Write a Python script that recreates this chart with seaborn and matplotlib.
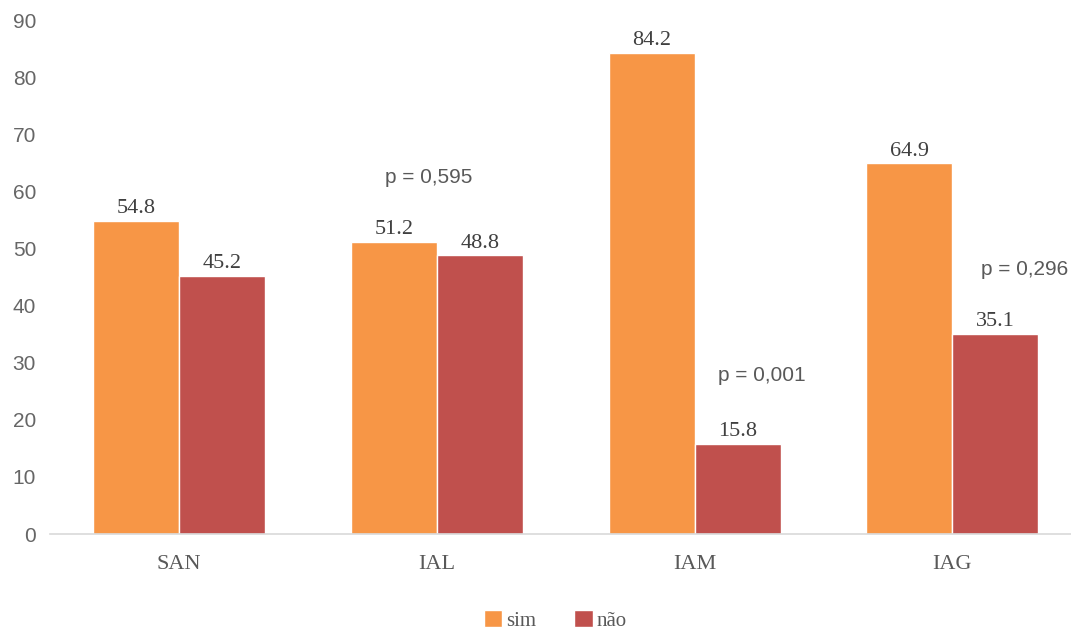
import pandas as pd
import matplotlib
matplotlib.use('Agg')
import matplotlib.pyplot as plt
import seaborn as sns

categories = ['SAN', 'IAL', 'IAM', 'IAG']
sim = [54.8, 51.2, 84.2, 64.9]
nao = [45.2, 48.8, 15.8, 35.1]
series_names = ['sim', 'não']
p_labels = ['p = 0,595', 'p = 0,001', 'p = 0,296']
p_pos = [(0.97, 62.5), (2.26, 27.7), (3.28, 46.4)]
y_ticks = list(range(0, 91, 10))

df = pd.DataFrame({
    'cat': categories * 2,
    'grupo': [series_names[0]] * 4 + [series_names[1]] * 4,
    'valor': sim + nao,
})

sns.set_style('white')
plt.rcParams['font.family'] = ['Liberation Serif', 'DejaVu Serif']
sans = ['Liberation Sans', 'DejaVu Sans']

fig = plt.figure(figsize=(10.71, 6.32), dpi=100)
ax = fig.add_axes([50 / 1071, 98 / 632, 1 - 50 / 1071, (534 - 20) / 632])

palette = {'sim': '#F79646', 'não': '#C0504D'}
sns.barplot(data=df, x='cat', y='valor', hue='grupo', palette=palette,
            width=0.667, gap=0, saturation=1, ax=ax, legend=True)

for cont in ax.containers:
    ax.bar_label(cont, fmt='%.1f', padding=2, fontsize=16, color='#404040')

for txt, (x, y) in zip(p_labels, p_pos):
    ax.text(x, y, txt, ha='center', va='center', fontsize=15,
            family=sans, color='#595959')

ax.set_ylim(0, 90)
ax.set_xlim(-0.5, 3.46)
ax.set_yticks(y_ticks)
ax.set_yticklabels([str(t) for t in y_ticks], family=sans)
ax.tick_params(axis='y', labelsize=15, labelcolor='#666666', length=0, pad=10)
ax.tick_params(axis='x', labelsize=16, labelcolor='#595959', length=0, pad=15)
ax.set_xlabel('')
ax.set_ylabel('')
for s in ['top', 'right', 'left']:
    ax.spines[s].set_visible(False)
ax.spines['bottom'].set_color('#D9D9D9')
ax.spines['bottom'].set_linewidth(1.2)

handles, labels = ax.get_legend_handles_labels()
ax.legend(handles, labels, loc='lower center', bbox_to_anchor=(0.495, -0.225),
          ncol=2, frameon=False, fontsize=15, handlelength=0.9, handleheight=0.9,
          handletextpad=0.2, columnspacing=1.8, labelcolor='#595959')

fig.savefig('out.png', dpi=100)
